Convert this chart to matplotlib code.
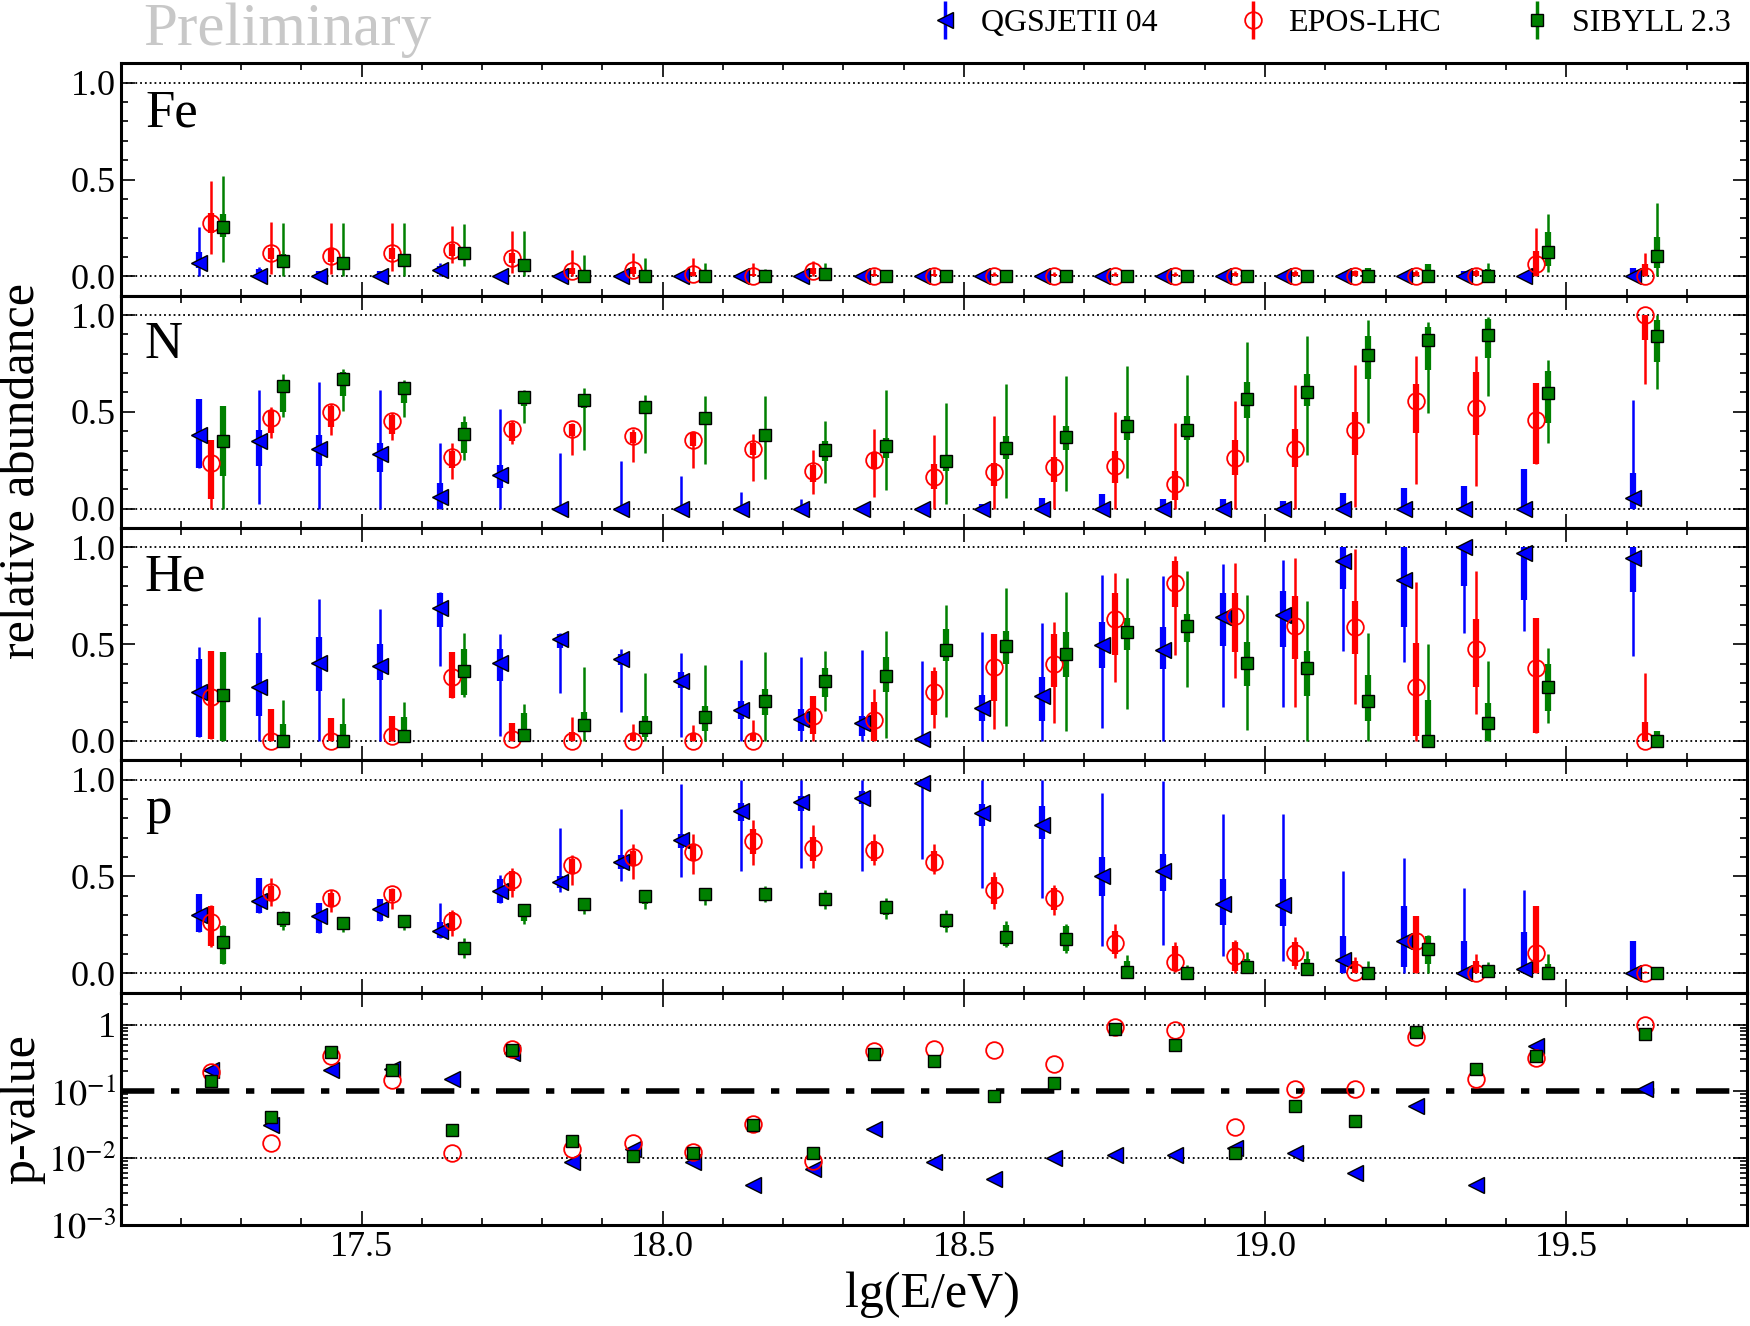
import numpy as np
import matplotlib
matplotlib.use("Agg")
import matplotlib.pyplot as plt
from matplotlib.ticker import MultipleLocator, FixedLocator, FixedFormatter, LogLocator, NullFormatter
from matplotlib.legend_handler import HandlerErrorbar
from matplotlib.container import ErrorbarContainer

# ---------------- data ----------------
LGE = [17.25, 17.35, 17.45, 17.55, 17.65, 17.75, 17.85, 17.95, 18.05, 18.15, 18.25, 18.35,
       18.45, 18.55, 18.65, 18.75, 18.85, 18.95, 19.05, 19.15, 19.25, 19.35, 19.45, 19.63]
MODELS = ["QGSJETII 04", "EPOS-LHC", "SIBYLL 2.3"]
SPECIES = ["Fe", "N", "He", "p"]

# Fe
FE_QGS_VAL = [0.07, 0, 0, 0, 0.033, 0, 0, 0, 0, 0, 0, 0, 0, 0, 0, 0, 0, 0, 0, 0, 0, 0, 0, 0]
FE_QGS_THIN_LO = [0.0] * 24
FE_QGS_THIN_HI = [0.255, 0.05, 0.026, 0.03, 0.067, 0.01, 0.01, 0.01, 0.01, 0.01, 0.01, 0.01, 0.01, 0.01, 0.01, 0.01, 0.01, 0.01, 0.01, 0.02, 0.01, 0.03, 0.005, 0.045]
FE_QGS_THICK_LO = [0.045, 0, 0, 0, 0.01, 0, 0, 0, 0, 0, 0, 0, 0, 0, 0, 0, 0, 0, 0, 0, 0, 0, 0, 0]
FE_QGS_THICK_HI = [0.125, 0.04, 0.026, 0.03, 0.053, 0.005, 0.005, 0.005, 0.005, 0.005, 0.005, 0.005, 0.005, 0.005, 0.005, 0.005, 0.005, 0.005, 0.005, 0.01, 0.005, 0.03, 0.005, 0.045]

FE_EPOS_VAL = [0.277, 0.122, 0.105, 0.119, 0.136, 0.093, 0.028, 0.031, 0.01, 0.0, 0.029, 0.0, 0.0, 0.0, 0.0, 0.0, 0.0, 0.0, 0.0, 0.0, 0.0, 0.0, 0.062, 0.0]
FE_EPOS_THIN_LO = [0.114, 0.014, 0.01, 0.028, 0.07, 0.019, 0, 0, 0, 0, 0, 0, 0, 0, 0, 0, 0, 0, 0, 0, 0, 0, 0, 0]
FE_EPOS_THIN_HI = [0.49, 0.28, 0.277, 0.274, 0.26, 0.234, 0.134, 0.119, 0.093, 0.067, 0.081, 0.04, 0.036, 0.02, 0.02, 0.02, 0.02, 0.03, 0.033, 0.033, 0.035, 0.04, 0.248, 0.122]
FE_EPOS_THICK_LO = [0.225, 0.088, 0.074, 0.088, 0.105, 0.067, 0.01, 0.01, 0, 0, 0.01, 0, 0, 0, 0, 0, 0, 0, 0, 0, 0, 0, 0, 0]
FE_EPOS_THICK_HI = [0.325, 0.148, 0.14, 0.148, 0.165, 0.122, 0.045, 0.05, 0.02, 0.01, 0.045, 0.01, 0.01, 0.01, 0.01, 0.01, 0.01, 0.015, 0.02, 0.025, 0.02, 0.025, 0.13, 0.062]

FE_SIB_VAL = [0.256, 0.079, 0.07, 0.084, 0.122, 0.06, 0, 0, 0, 0, 0.01, 0, 0, 0, 0, 0, 0, 0, 0, 0, 0, 0, 0.127, 0.105]
FE_SIB_THIN_LO = [0.076, 0, 0, 0, 0.053, 0, 0, 0, 0, 0, 0, 0, 0, 0, 0, 0, 0, 0, 0, 0, 0, 0, 0.02, 0]
FE_SIB_THIN_HI = [0.52, 0.277, 0.274, 0.274, 0.268, 0.234, 0.108, 0.096, 0.067, 0.04, 0.067, 0.01, 0.01, 0.01, 0.01, 0.01, 0.01, 0.03, 0.02, 0.045, 0.062, 0.07, 0.32, 0.38]
FE_SIB_THICK_LO = [0.205, 0.045, 0.045, 0.057, 0.088, 0.036, 0, 0, 0, 0, 0, 0, 0, 0, 0, 0, 0, 0, 0, 0, 0, 0, 0.053, 0.045]
FE_SIB_THICK_HI = [0.32, 0.114, 0.096, 0.108, 0.153, 0.088, 0.01, 0.01, 0.01, 0.01, 0.02, 0.01, 0.01, 0.01, 0.01, 0.01, 0.01, 0.027, 0.02, 0.045, 0.062, 0.04, 0.23, 0.205]

# N
N_QGS_VAL = [0.378, 0.349, 0.306, 0.284, 0.062, 0.174, 0, 0, 0, 0, 0, 0, 0, 0, 0, 0, 0, 0, 0, 0, 0, 0, 0, 0.057]
N_QGS_THIN_LO = [0.211, 0.022, 0, 0, 0, 0, 0, 0, 0, 0, 0, 0, 0, 0, 0, 0, 0, 0, 0, 0, 0, 0, 0, 0]
N_QGS_THIN_HI = [0.564, 0.615, 0.653, 0.615, 0.337, 0.515, 0.285, 0.246, 0.167, 0.086, 0.052, 0.0, 0.0, 0.026, 0.057, 0.074, 0.048, 0.048, 0.038, 0.079, 0.108, 0.117, 0.206, 0.56]
N_QGS_THICK_LO = [0.211, 0.22, 0.22, 0.19, 0, 0.108, 0, 0, 0, 0, 0, 0, 0, 0, 0, 0, 0, 0, 0, 0, 0, 0, 0, 0]
N_QGS_THICK_HI = [0.564, 0.405, 0.383, 0.34, 0.13, 0.223, 0, 0, 0, 0, 0, 0, 0, 0.026, 0.057, 0.074, 0.048, 0.048, 0.038, 0.079, 0.108, 0.117, 0.206, 0.186]

N_EPOS_VAL = [0.234, 0.469, 0.498, 0.455, 0.268, 0.412, 0.412, 0.373, 0.357, 0.309, 0.192, 0.251, 0.165, 0.189, 0.215, 0.22, 0.125, 0.261, 0.306, 0.405, 0.555, 0.521, 0.46, 1.0]
N_EPOS_THIN_LO = [0, 0.366, 0.38, 0.357, 0.155, 0.332, 0.277, 0.242, 0.211, 0.143, 0.074, 0.062, 0, 0, 0, 0, 0, 0, 0, 0.01, 0.125, 0.117, 0.232, 0.646]
N_EPOS_THIN_HI = [0.357, 0.526, 0.543, 0.495, 0.337, 0.452, 0.443, 0.409, 0.4, 0.388, 0.302, 0.412, 0.383, 0.481, 0.486, 0.5, 0.44, 0.555, 0.641, 0.744, 0.787, 0.79, 0.649, 1.0]
N_EPOS_THICK_LO = [0.048, 0.392, 0.42, 0.387, 0.211, 0.35, 0.375, 0.341, 0.326, 0.279, 0.137, 0.203, 0.1, 0.117, 0.137, 0.134, 0.045, 0.172, 0.215, 0.275, 0.392, 0.381, 0.232, 0.873]
N_EPOS_THICK_HI = [0.354, 0.512, 0.53, 0.485, 0.297, 0.444, 0.435, 0.395, 0.392, 0.34, 0.228, 0.288, 0.229, 0.237, 0.268, 0.297, 0.194, 0.357, 0.409, 0.498, 0.646, 0.706, 0.649, 1.0]

N_SIB_VAL = [0.349, 0.636, 0.67, 0.625, 0.388, 0.579, 0.56, 0.527, 0.469, 0.378, 0.302, 0.323, 0.246, 0.314, 0.371, 0.426, 0.404, 0.564, 0.603, 0.792, 0.873, 0.899, 0.595, 0.893]
N_SIB_THIN_LO = [0, 0.474, 0.503, 0.474, 0.249, 0.44, 0.302, 0.285, 0.232, 0.151, 0.131, 0.096, 0.022, 0.053, 0.093, 0.156, 0.117, 0.242, 0.277, 0.443, 0.495, 0.584, 0.34, 0.619]
N_SIB_THIN_HI = [0.53, 0.696, 0.723, 0.667, 0.481, 0.615, 0.624, 0.589, 0.584, 0.58, 0.455, 0.612, 0.546, 0.646, 0.687, 0.735, 0.692, 0.861, 0.893, 0.976, 0.964, 0.99, 0.77, 1.0]
N_SIB_THICK_LO = [0.168, 0.5, 0.58, 0.546, 0.29, 0.529, 0.519, 0.503, 0.443, 0.35, 0.246, 0.263, 0.194, 0.254, 0.302, 0.357, 0.357, 0.469, 0.529, 0.67, 0.718, 0.778, 0.44, 0.756]
N_SIB_THICK_HI = [0.53, 0.663, 0.704, 0.65, 0.45, 0.609, 0.591, 0.557, 0.495, 0.41, 0.35, 0.366, 0.263, 0.375, 0.426, 0.478, 0.478, 0.653, 0.698, 0.89, 0.938, 0.979, 0.713, 0.976]

# He
HE_QGS_VAL = [0.251, 0.277, 0.401, 0.386, 0.687, 0.401, 0.527, 0.423, 0.312, 0.16, 0.114, 0.091, 0.01, 0.17, 0.234, 0.496, 0.47, 0.642, 0.651, 0.931, 0.831, 1.0, 0.971, 0.943]
HE_QGS_THIN_LO = [0.022, 0, 0, 0, 0.389, 0.028, 0.246, 0.148, 0.022, 0, 0, 0, 0, 0, 0, 0.067, 0, 0.177, 0.174, 0.466, 0.406, 0.558, 0.566, 0.437]
HE_QGS_THIN_HI = [0.487, 0.642, 0.733, 0.682, 0.768, 0.552, 0.558, 0.475, 0.453, 0.418, 0.432, 0.47, 0.411, 0.561, 0.609, 0.857, 0.854, 0.914, 0.935, 1.0, 1.0, 1.0, 1.0, 1.0]
HE_QGS_THICK_LO = [0.022, 0.127, 0.26, 0.315, 0.587, 0.312, 0.48, 0.39, 0.275, 0.115, 0.053, 0.027, 0, 0.105, 0.105, 0.377, 0.372, 0.492, 0.484, 0.785, 0.587, 0.802, 0.728, 0.768]
HE_QGS_THICK_HI = [0.423, 0.454, 0.535, 0.5, 0.764, 0.475, 0.55, 0.45, 0.354, 0.208, 0.165, 0.131, 0.02, 0.239, 0.329, 0.613, 0.587, 0.764, 0.776, 1.0, 1.0, 1.0, 1.0, 1.0]

HE_EPOS_VAL = [0.225, 0, 0, 0.024, 0.329, 0.01, 0, 0, 0, 0, 0.131, 0.108, 0.255, 0.38, 0.398, 0.63, 0.814, 0.645, 0.592, 0.587, 0.277, 0.477, 0.377, 0.0]
HE_EPOS_THIN_LO = [0.01, 0, 0, 0, 0.222, 0, 0, 0, 0, 0, 0, 0, 0.069, 0.062, 0.093, 0.303, 0.446, 0.325, 0.177, 0.191, 0, 0.139, 0.04, 0]
HE_EPOS_THIN_HI = [0.463, 0.165, 0.119, 0.127, 0.458, 0.091, 0.126, 0.088, 0.083, 0.108, 0.234, 0.268, 0.38, 0.552, 0.613, 0.866, 0.954, 0.919, 0.943, 0.991, 0.819, 0.88, 0.635, 0.349]
HE_EPOS_THICK_LO = [0.01, 0, 0, 0, 0.222, 0, 0, 0, 0, 0, 0.036, 0, 0.135, 0.208, 0.277, 0.446, 0.69, 0.458, 0.423, 0.449, 0.028, 0.281, 0.04, 0]
HE_EPOS_THICK_HI = [0.463, 0.165, 0.119, 0.127, 0.458, 0.091, 0.045, 0.04, 0.04, 0.04, 0.234, 0.2, 0.363, 0.552, 0.552, 0.764, 0.928, 0.764, 0.75, 0.721, 0.504, 0.63, 0.635, 0.096]

HE_SIB_VAL = [0.238, 0, 0, 0.024, 0.36, 0.033, 0.083, 0.074, 0.126, 0.208, 0.308, 0.334, 0.472, 0.492, 0.449, 0.565, 0.596, 0.403, 0.375, 0.205, 0.0, 0.091, 0.277, 0.0]
HE_SIB_THIN_LO = [0, 0, 0, 0, 0.229, 0, 0, 0, 0, 0, 0.153, 0.014, 0.122, 0.079, 0.053, 0.165, 0.277, 0.057, 0, 0, 0, 0, 0.093, 0]
HE_SIB_THIN_HI = [0.46, 0.212, 0.222, 0.2, 0.556, 0.191, 0.38, 0.351, 0.392, 0.458, 0.463, 0.57, 0.702, 0.788, 0.771, 0.842, 0.88, 0.754, 0.721, 0.556, 0.501, 0.415, 0.48, 0.05]
HE_SIB_THICK_LO = [0, 0, 0, 0, 0.239, 0.019, 0.045, 0.019, 0.053, 0.135, 0.226, 0.251, 0.415, 0.398, 0.329, 0.47, 0.509, 0.282, 0.234, 0.105, 0, 0, 0.157, 0]
HE_SIB_THICK_HI = [0.46, 0.088, 0.088, 0.122, 0.475, 0.143, 0.148, 0.131, 0.182, 0.27, 0.375, 0.432, 0.578, 0.57, 0.561, 0.635, 0.656, 0.509, 0.463, 0.343, 0.212, 0.194, 0.396, 0.05]

# p
P_QGS_VAL = [0.302, 0.375, 0.294, 0.332, 0.22, 0.426, 0.474, 0.577, 0.689, 0.838, 0.885, 0.907, 0.985, 0.83, 0.765, 0.503, 0.529, 0.357, 0.352, 0.069, 0.168, 0, 0.022, 0]
P_QGS_THIN_LO = [0.211, 0.311, 0.206, 0.271, 0.18, 0.363, 0.418, 0.478, 0.495, 0.526, 0.543, 0.526, 0.588, 0.44, 0.388, 0.143, 0.146, 0.088, 0.065, 0, 0, 0, 0, 0]
P_QGS_THIN_HI = [0.409, 0.491, 0.363, 0.383, 0.363, 0.509, 0.753, 0.851, 0.976, 0.997, 0.997, 0.997, 1.0, 1.0, 1.0, 0.93, 0.993, 0.821, 0.825, 0.529, 0.593, 0.44, 0.43, 0.168]
P_QGS_THICK_LO = [0.211, 0.311, 0.206, 0.271, 0.18, 0.363, 0.443, 0.537, 0.649, 0.789, 0.838, 0.873, 0.96, 0.761, 0.692, 0.4, 0.426, 0.251, 0.242, 0, 0.031, 0, 0, 0]
P_QGS_THICK_HI = [0.409, 0.491, 0.363, 0.383, 0.263, 0.486, 0.503, 0.611, 0.718, 0.881, 0.916, 0.94, 0.993, 0.876, 0.864, 0.601, 0.615, 0.486, 0.486, 0.194, 0.349, 0.165, 0.211, 0.168]

P_EPOS_VAL = [0.266, 0.418, 0.388, 0.409, 0.268, 0.483, 0.558, 0.601, 0.629, 0.684, 0.649, 0.636, 0.577, 0.43, 0.387, 0.155, 0.06, 0.091, 0.103, 0.005, 0.165, 0, 0.103, 0]
P_EPOS_THIN_LO = [0.137, 0.349, 0.318, 0.332, 0.194, 0.392, 0.455, 0.486, 0.515, 0.558, 0.543, 0.558, 0.515, 0.332, 0.301, 0.079, 0.005, 0.003, 0.022, 0, 0, 0, 0, 0]
P_EPOS_THIN_HI = [0.354, 0.491, 0.43, 0.44, 0.328, 0.546, 0.612, 0.667, 0.722, 0.792, 0.765, 0.718, 0.667, 0.521, 0.457, 0.254, 0.163, 0.174, 0.186, 0.086, 0.294, 0.1, 0.349, 0.01]
P_EPOS_THICK_LO = [0.142, 0.375, 0.347, 0.375, 0.22, 0.426, 0.511, 0.555, 0.582, 0.617, 0.582, 0.582, 0.528, 0.357, 0.325, 0.099, 0.014, 0.014, 0.039, 0, 0, 0, 0, 0]
P_EPOS_THICK_HI = [0.349, 0.451, 0.417, 0.435, 0.315, 0.526, 0.588, 0.631, 0.67, 0.747, 0.704, 0.684, 0.631, 0.497, 0.442, 0.22, 0.143, 0.16, 0.16, 0.065, 0.294, 0.065, 0.349, 0.005]

P_SIB_VAL = [0.16, 0.285, 0.258, 0.271, 0.131, 0.326, 0.357, 0.4, 0.409, 0.412, 0.383, 0.344, 0.277, 0.189, 0.177, 0.009, 0, 0.034, 0.022, 0, 0.125, 0.01, 0, 0]
P_SIB_THIN_LO = [0.048, 0.223, 0.211, 0.225, 0.079, 0.254, 0.306, 0.332, 0.354, 0.366, 0.332, 0.28, 0.215, 0.134, 0.103, 0, 0, 0, 0, 0, 0, 0, 0, 0]
P_SIB_THIN_HI = [0.249, 0.323, 0.285, 0.294, 0.18, 0.349, 0.383, 0.43, 0.44, 0.452, 0.43, 0.387, 0.326, 0.268, 0.254, 0.095, 0.045, 0.108, 0.117, 0.062, 0.198, 0.057, 0.1, 0.01]
P_SIB_THICK_LO = [0.048, 0.237, 0.225, 0.235, 0.1, 0.271, 0.32, 0.36, 0.375, 0.385, 0.35, 0.3, 0.235, 0.142, 0.116, 0, 0, 0.005, 0, 0, 0.048, 0, 0, 0]
P_SIB_THICK_HI = [0.245, 0.31, 0.275, 0.285, 0.16, 0.34, 0.37, 0.41, 0.42, 0.43, 0.41, 0.37, 0.3, 0.25, 0.245, 0.065, 0.02, 0.074, 0.074, 0.02, 0.194, 0.02, 0.05, 0.005]

# p-values
PVAL_QGS = [0.206, 0.031, 0.211, 0.219, 0.151, 0.38, 0.0089, 0.0138, 0.0089, 0.0039, 0.0069, 0.027, 0.0089, 0.0049, 0.010, 0.011, 0.011, 0.014, 0.012, 0.006, 0.06, 0.004, 0.48, 0.107]
PVAL_EPOS = [0.195, 0.017, 0.335, 0.15, 0.012, 0.427, 0.0138, 0.017, 0.0123, 0.032, 0.0092, 0.398, 0.43, 0.41, 0.26, 0.92, 0.82, 0.029, 0.11, 0.107, 0.64, 0.151, 0.316, 1.0]
PVAL_SIB = [0.141, 0.041, 0.389, 0.211, 0.026, 0.41, 0.018, 0.0107, 0.012, 0.0316, 0.012, 0.367, 0.285, 0.084, 0.135, 0.87, 0.49, 0.012, 0.06, 0.036, 0.76, 0.214, 0.335, 0.71]

XTICKS = [17.5, 18.0, 18.5, 19.0, 19.5]
XTICKLABELS = ["17.5", "18.0", "18.5", "19.0", "19.5"]
PTICKS = [1e-3, 1e-2, 1e-1, 1]
PTICKLABELS = ["$10^{-3}$", "$10^{-2}$", "$10^{-1}$", "1"]

ABUND = {
    "Fe": [(FE_QGS_VAL, FE_QGS_THIN_LO, FE_QGS_THIN_HI, FE_QGS_THICK_LO, FE_QGS_THICK_HI),
           (FE_EPOS_VAL, FE_EPOS_THIN_LO, FE_EPOS_THIN_HI, FE_EPOS_THICK_LO, FE_EPOS_THICK_HI),
           (FE_SIB_VAL, FE_SIB_THIN_LO, FE_SIB_THIN_HI, FE_SIB_THICK_LO, FE_SIB_THICK_HI)],
    "N": [(N_QGS_VAL, N_QGS_THIN_LO, N_QGS_THIN_HI, N_QGS_THICK_LO, N_QGS_THICK_HI),
          (N_EPOS_VAL, N_EPOS_THIN_LO, N_EPOS_THIN_HI, N_EPOS_THICK_LO, N_EPOS_THICK_HI),
          (N_SIB_VAL, N_SIB_THIN_LO, N_SIB_THIN_HI, N_SIB_THICK_LO, N_SIB_THICK_HI)],
    "He": [(HE_QGS_VAL, HE_QGS_THIN_LO, HE_QGS_THIN_HI, HE_QGS_THICK_LO, HE_QGS_THICK_HI),
           (HE_EPOS_VAL, HE_EPOS_THIN_LO, HE_EPOS_THIN_HI, HE_EPOS_THICK_LO, HE_EPOS_THICK_HI),
           (HE_SIB_VAL, HE_SIB_THIN_LO, HE_SIB_THIN_HI, HE_SIB_THICK_LO, HE_SIB_THICK_HI)],
    "p": [(P_QGS_VAL, P_QGS_THIN_LO, P_QGS_THIN_HI, P_QGS_THICK_LO, P_QGS_THICK_HI),
          (P_EPOS_VAL, P_EPOS_THIN_LO, P_EPOS_THIN_HI, P_EPOS_THICK_LO, P_EPOS_THICK_HI),
          (P_SIB_VAL, P_SIB_THIN_LO, P_SIB_THIN_HI, P_SIB_THICK_LO, P_SIB_THICK_HI)],
}
PVALS = [PVAL_QGS, PVAL_EPOS, PVAL_SIB]

# ---------------- style ----------------
plt.rcParams["font.family"] = ["Liberation Serif", "DejaVu Serif"]
plt.rcParams["mathtext.fontset"] = "stix"

COLORS = ["#0000ff", "#ff0000", "#008000"]
OFFSETS = [-0.02, 0.0, 0.02]
MSTYLE = [
    dict(marker="<", markersize=12, markerfacecolor="#0000ff", markeredgecolor="black", markeredgewidth=1.0),
    dict(marker="o", markersize=12, markerfacecolor="none", markeredgecolor="#ff0000", markeredgewidth=1.3),
    dict(marker="s", markersize=9, markerfacecolor="#008000", markeredgecolor="black", markeredgewidth=1.0),
]
TICKFS = 26
LABELFS = 36

fig = plt.figure(figsize=(17.5, 13.26), dpi=100)
L, W = 0.0689, 0.9294
H = 0.1752
B0 = 0.0762
axes = []
for i in range(5):
    bottom = B0 + (4 - i) * H
    ax = fig.add_axes([L, bottom, W, H])
    axes.append(ax)

x = np.array(LGE)

def style_axis(ax):
    ax.set_xlim(17.1, 19.8)
    ax.xaxis.set_major_locator(FixedLocator(XTICKS))
    ax.xaxis.set_minor_locator(MultipleLocator(0.1))
    ax.tick_params(which="both", direction="in", top=True, right=True, labelsize=TICKFS, width=1.2)
    ax.tick_params(which="major", length=10)
    ax.tick_params(which="minor", length=5)
    for s in ax.spines.values():
        s.set_linewidth(2.2)

legend_handles = []
for k, sp in enumerate(SPECIES):
    ax = axes[k]
    style_axis(ax)
    ax.set_ylim(-0.1, 1.1)
    ax.yaxis.set_major_locator(FixedLocator([0.0, 0.5, 1.0]))
    ax.yaxis.set_major_formatter(FixedFormatter(["0.0", "0.5", "1.0"]))
    ax.yaxis.set_minor_locator(MultipleLocator(0.1))
    ax.axhline(0.0, color="black", ls=":", lw=1.3, zorder=1)
    ax.axhline(1.0, color="black", ls=":", lw=1.3, zorder=1)
    ax.tick_params(axis="x", labelbottom=False)
    for m in range(3):
        val, tlo, thi, klo, khi = [np.array(a, dtype=float) for a in ABUND[sp][m]]
        xm = x + OFFSETS[m]
        ax.errorbar(xm, val, yerr=[val - tlo, thi - val], fmt="none", ecolor=COLORS[m],
                    elinewidth=1.8, capsize=0, zorder=2 + m)
        ax.vlines(xm, klo, khi, colors=COLORS[m], lw=4.5, zorder=2 + m)
        ax.plot(xm, val, ls="none", zorder=5 + m, **MSTYLE[m])
        if k == 0:
            h = ax.errorbar([np.nan], [np.nan], yerr=[[0.1], [0.1]], fmt="", ls="none",
                            ecolor=COLORS[m], elinewidth=2.5, capsize=0, **MSTYLE[m])
            legend_handles.append(h)
    ax.text(0.015, 0.73, sp, transform=ax.transAxes, fontsize=38, va="baseline", ha="left")

# p-value panel
axp = axes[4]
style_axis(axp)
axp.set_yscale("log")
axp.set_ylim(1e-3, 3)
axp.yaxis.set_major_locator(FixedLocator(PTICKS))
axp.yaxis.set_major_formatter(FixedFormatter(PTICKLABELS))
axp.yaxis.set_minor_locator(LogLocator(base=10, subs=np.arange(2, 10), numticks=20))
axp.yaxis.set_minor_formatter(NullFormatter())
axp.axhline(1.0, color="black", ls=":", lw=1.3, zorder=1)
axp.axhline(1e-2, color="black", ls=":", lw=1.3, zorder=1)
axp.axhline(1e-1, color="black", ls="-.", lw=4, dashes=(6, 3, 1.5, 3), zorder=1)
for m in range(3):
    axp.plot(x, PVALS[m], ls="none", zorder=5 + m, **MSTYLE[m])
axp.set_xticklabels(XTICKLABELS)
axp.tick_params(axis="x", pad=4)

fig.text(0.0126, 0.645, "relative abundance", rotation=90, fontsize=LABELFS, ha="center", va="center")
fig.text(0.0126, 0.1638, "p-value", rotation=90, fontsize=LABELFS, ha="center", va="center")
fig.text(0.533, 0.0235, "lg(E/eV)", fontsize=LABELFS, ha="center", va="center")
fig.text(0.0817, 0.966, "Preliminary", fontsize=44, color="#c8c8c8", ha="left", va="baseline")

fig.legend(legend_handles, MODELS, loc="upper right", bbox_to_anchor=(1.0, 1.008), ncol=3,
           frameon=False, fontsize=23, handlelength=1.0, handletextpad=0.6, columnspacing=2.5,
           borderaxespad=0.2, numpoints=1,
           handler_map={ErrorbarContainer: HandlerErrorbar(yerr_size=0.6)})

fig.savefig("out.png", dpi=100)
